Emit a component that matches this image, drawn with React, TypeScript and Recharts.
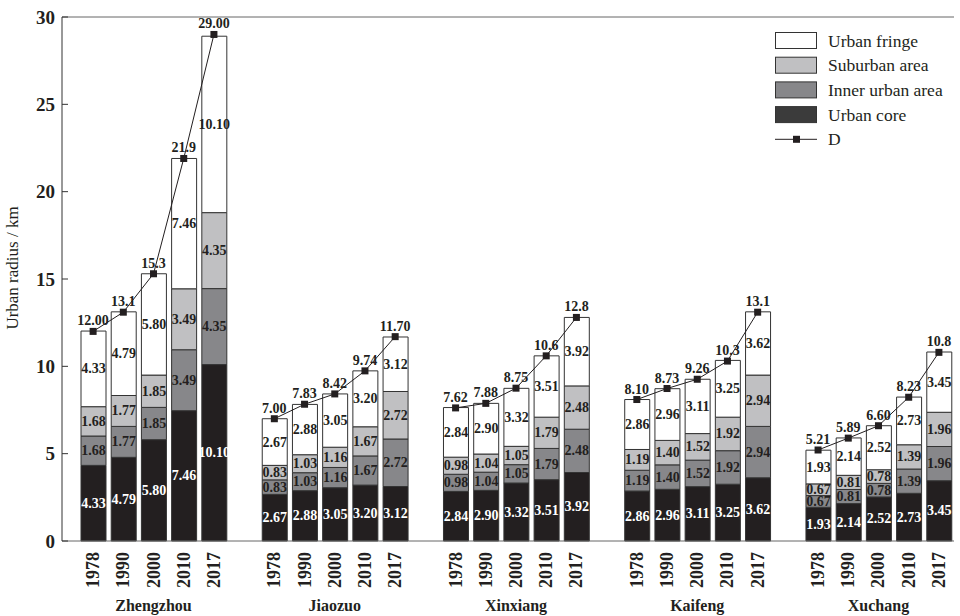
import { Bar, ComposedChart, LabelList, Legend, Line, ReferenceLine, XAxis, YAxis } from "recharts";

const FONT = '"Liberation Serif", "Times New Roman", serif';
const INK = "#231f20";

const years = ["1978", "1990", "2000", "2010", "2017"];
const cities = ["Zhengzhou", "Jiaozuo", "Xinxiang", "Kaifeng", "Xuchang"];

// radius of each ring, km (one row per city, one column per year)
const coreValues = [
  [4.33, 4.79, 5.8, 7.46, 10.1],
  [2.67, 2.88, 3.05, 3.2, 3.12],
  [2.84, 2.9, 3.32, 3.51, 3.92],
  [2.86, 2.96, 3.11, 3.25, 3.62],
  [1.93, 2.14, 2.52, 2.73, 3.45],
];
const innerValues = [
  [1.68, 1.77, 1.85, 3.49, 4.35],
  [0.83, 1.03, 1.16, 1.67, 2.72],
  [0.98, 1.04, 1.05, 1.79, 2.48],
  [1.19, 1.4, 1.52, 1.92, 2.94],
  [0.67, 0.81, 0.78, 1.39, 1.96],
];
const suburbanValues = [
  [1.68, 1.77, 1.85, 3.49, 4.35],
  [0.83, 1.03, 1.16, 1.67, 2.72],
  [0.98, 1.04, 1.05, 1.79, 2.48],
  [1.19, 1.4, 1.52, 1.92, 2.94],
  [0.67, 0.81, 0.78, 1.39, 1.96],
];
const fringeValues = [
  [4.33, 4.79, 5.8, 7.46, 10.1],
  [2.67, 2.88, 3.05, 3.2, 3.12],
  [2.84, 2.9, 3.32, 3.51, 3.92],
  [2.86, 2.96, 3.11, 3.25, 3.62],
  [1.93, 2.14, 2.52, 2.73, 3.45],
];
// total radius D as printed above each bar
const dLabels = [
  ["12.00", "13.1", "15.3", "21.9", "29.00"],
  ["7.00", "7.83", "8.42", "9.74", "11.70"],
  ["7.62", "7.88", "8.75", "10.6", "12.8"],
  ["8.10", "8.73", "9.26", "10.3", "13.1"],
  ["5.21", "5.89", "6.60", "8.23", "10.8"],
];
const yTicks = [0, 5, 10, 15, 20, 25, 30];

const series = [
  { key: "core", name: "Urban core", fill: INK, legendFill: "#3b3b3b", text: "#ffffff" },
  { key: "inner", name: "Inner urban area", fill: "#87878a", legendFill: "#87878a", text: INK },
  { key: "suburban", name: "Suburban area", fill: "#c0c0c2", legendFill: "#c0c0c2", text: INK },
  { key: "fringe", name: "Urban fringe", fill: "#ffffff", legendFill: "#ffffff", text: INK },
];

type Row = {
  key: string;
  city?: string;
  year?: string;
  mid?: boolean;
  core?: number;
  inner?: number;
  suburban?: number;
  fringe?: number;
  D?: number | null;
  dText?: string;
};

// one row per bar, with an empty row between cities so the D line breaks
const rows: Row[] = [];
cities.forEach((city, ci) => {
  if (ci > 0) rows.push({ key: `gap-${ci}`, D: null });
  years.forEach((year, yi) => {
    rows.push({
      key: `${city}-${year}`,
      city,
      year,
      mid: yi === 2,
      core: coreValues[ci][yi],
      inner: innerValues[ci][yi],
      suburban: suburbanValues[ci][yi],
      fringe: fringeValues[ci][yi],
      D: Number(dLabels[ci][yi]),
      dText: dLabels[ci][yi],
    });
  });
});

function YearTick(props: any) {
  const { x, y, payload } = props;
  const row = rows[payload.index];
  if (!row || !row.year) return null;
  return (
    <g>
      <text
        x={x}
        y={y + 11}
        transform={`rotate(-90 ${x} ${y + 11})`}
        textAnchor="end"
        dominantBaseline="central"
        fontFamily={FONT}
        fontWeight="bold"
        fontSize={18}
        fill={INK}
      >
        {row.year}
      </text>
      {row.mid && (
        <text x={x} y={y + 70} textAnchor="middle" fontFamily={FONT} fontWeight="bold" fontSize={16} fill={INK}>
          {row.city}
        </text>
      )}
    </g>
  );
}

function RadiusTick(props: any) {
  const { x, y, payload } = props;
  return (
    <g>
      <line x1={x} x2={x + 6} y1={y} y2={y} stroke="#333" />
      <text
        x={x - 7}
        y={y}
        textAnchor="end"
        dominantBaseline="central"
        fontFamily={FONT}
        fontWeight="bold"
        fontSize={19}
        fill={INK}
      >
        {payload.value}
      </text>
    </g>
  );
}

function segmentLabel(color: string) {
  return (props: any) => {
    const { x, y, width, height, value } = props;
    if (value == null) return null;
    return (
      <text
        x={x + width / 2}
        y={y + height / 2}
        textAnchor="middle"
        dominantBaseline="central"
        fontFamily={FONT}
        fontWeight="bold"
        fontSize={14}
        fill={color}
      >
        {Number(value).toFixed(2)}
      </text>
    );
  };
}

function totalLabel(props: any) {
  const { x, y, value } = props;
  if (value == null || y == null || Number.isNaN(y)) return null;
  return (
    <text x={x} y={y - 6} textAnchor="middle" fontFamily={FONT} fontWeight="bold" fontSize={14} fill={INK}>
      {value}
    </text>
  );
}

function SquareDot(props: any) {
  const { cx, cy } = props;
  if (cy == null || Number.isNaN(cy)) return null;
  return <rect x={cx - 3.5} y={cy - 3.5} width={7} height={7} fill={INK} />;
}

function LegendBox() {
  const pitch = 24.7;
  const items = [...series].reverse();
  return (
    <svg width={190} height={130}>
      {items.map((s, i) => (
        <g key={s.key}>
          <rect x={5.5} y={7.5 + i * pitch} width={41} height={16} fill={s.legendFill} stroke="#333" />
          <text x={58} y={15.5 + i * pitch} dominantBaseline="central" fontFamily={FONT} fontSize={17.5} fill={INK}>
            {s.name}
          </text>
        </g>
      ))}
      <line x1={5} x2={47} y1={15.5 + 4 * pitch} y2={15.5 + 4 * pitch} stroke={INK} />
      <rect x={23} y={12 + 4 * pitch} width={7} height={7} fill={INK} />
      <text x={58} y={15.5 + 4 * pitch} dominantBaseline="central" fontFamily={FONT} fontSize={17.5} fill={INK}>
        D
      </text>
    </svg>
  );
}

export default function App() {
  return (
    <div style={{ position: "absolute", left: 0, top: 0, background: "#fff" }}>
      <ComposedChart
        width={960}
        height={616}
        data={rows}
        barSize={25}
        margin={{ top: 17, right: 6, left: 0, bottom: 0 }}
      >
        <XAxis
          dataKey="key"
          interval={0}
          tick={<YearTick />}
          tickSize={0}
          tickMargin={0}
          height={75}
          padding={{ left: 16, right: 0 }}
          axisLine={{ stroke: "#666" }}
          tickLine={false}
        />
        <YAxis
          domain={[0, 30]}
          ticks={yTicks}
          width={62}
          tick={<RadiusTick />}
          tickSize={0}
          tickMargin={0}
          axisLine={{ stroke: "#333" }}
          tickLine={false}
          label={{
            content: () => (
              <text x={18} y={268} transform="rotate(-90 18 268)" textAnchor="middle" fontFamily={FONT} fontSize={17} fill={INK}>
                Urban radius / km
              </text>
            ),
          }}
        />
        <ReferenceLine y={30} stroke="#666" />
        <Legend
          layout="horizontal"
          verticalAlign="middle"
          align="center"
          wrapperStyle={{ top: 25, left: 770, width: 190, height: 130 }}
          content={() => <LegendBox />}
        />
        {series.map((s) => (
          <Bar
            key={s.key}
            dataKey={s.key}
            name={s.name}
            stackId="ring"
            fill={s.fill}
            stroke="#333"
            strokeWidth={1}
            isAnimationActive={false}
          >
            <LabelList dataKey={s.key} content={segmentLabel(s.text)} />
          </Bar>
        ))}
        <Line
          dataKey="D"
          name="D"
          stroke={INK}
          strokeWidth={1}
          dot={<SquareDot />}
          activeDot={false}
          connectNulls={false}
          legendType="none"
          isAnimationActive={false}
        >
          <LabelList dataKey="dText" content={totalLabel} />
        </Line>
      </ComposedChart>
    </div>
  );
}
